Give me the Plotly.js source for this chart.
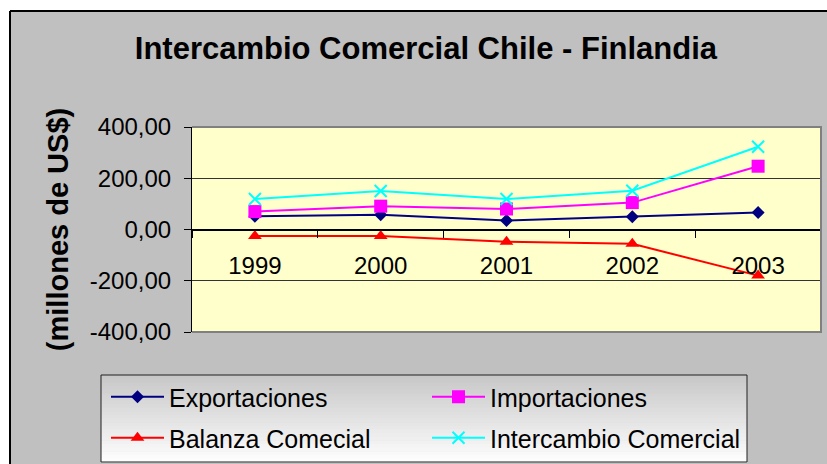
<!DOCTYPE html>
<html>
<head>
<meta charset="utf-8">
<script src="https://cdn.plot.ly/plotly-3.0.1.min.js"></script>
<style>html,body{margin:0;padding:0;background:#fff;}#chart{width:827px;height:464px;}</style>
</head>
<body>
<div id="chart"></div>
<script>
// ---- data ----
var years = ['1999', '2000', '2001', '2002', '2003'];
var exportaciones = [52, 58, 35, 50, 66];
var importaciones = [70, 91, 80, 105, 247];
var balanza = [-25, -25, -48, -56, -180];
var intercambio = [119, 150, 119, 151, 323];
var yTicks = [400, 200, 0, -200, -400];
var yTickLabels = ['400,00', '200,00', '0,00', '-200,00', '-400,00'];
var seriesNames = ['Exportaciones', 'Importaciones', 'Balanza Comecial', 'Intercambio Comercial'];

// ---- geometry helpers (pixel -> paper) ----
var W = 827, H = 464;
var L = 192, R = 6, T = 127, B = 132;
var PW = W - L - R, PH = H - T - B;
function px(x) { return (x - L) / PW; }
function py(y) { return (H - B - y) / PH; }

var FONT = 'Arial, "Liberation Sans", sans-serif';

var traces = [
  {x: years, y: exportaciones, name: seriesNames[0], type: 'scatter', mode: 'lines+markers',
   line: {color: '#000080', width: 2}, marker: {symbol: 'diamond', size: 10, color: '#000080'}, legend: 'legend'},
  {x: years, y: importaciones, name: seriesNames[1], type: 'scatter', mode: 'lines+markers',
   line: {color: '#FF00FF', width: 2}, marker: {symbol: 'square', size: 13, color: '#FF00FF'}, legend: 'legend2'},
  {x: years, y: balanza, name: seriesNames[2], type: 'scatter', mode: 'lines+markers',
   line: {color: '#FF0000', width: 2}, marker: {symbol: 'triangle-up', size: 12, color: '#FF0000'}, legend: 'legend3'},
  {x: years, y: intercambio, name: seriesNames[3], type: 'scatter', mode: 'lines+markers',
   line: {color: '#00FFFF', width: 2}, marker: {symbol: 'x-thin-open', size: 12, color: '#00FFFF', line: {color: '#00FFFF', width: 2}}, legend: 'legend4'}
];

var shapes = [];
// white page strips outside the chart frame
shapes.push({type: 'rect', xref: 'paper', yref: 'paper', layer: 'below',
  x0: px(-20), x1: px(850), y0: py(11), y1: py(-20), fillcolor: '#ffffff', line: {width: 0}});
shapes.push({type: 'rect', xref: 'paper', yref: 'paper', layer: 'below',
  x0: px(-20), x1: px(10), y0: py(480), y1: py(-20), fillcolor: '#ffffff', line: {width: 0}});
// frame border lines
shapes.push({type: 'line', xref: 'paper', yref: 'paper', layer: 'below',
  x0: px(10), x1: px(850), y0: py(11), y1: py(11), line: {color: '#000', width: 2}});
shapes.push({type: 'line', xref: 'paper', yref: 'paper', layer: 'below',
  x0: px(10), x1: px(10), y0: py(11), y1: py(480), line: {color: '#000', width: 2}});
// legend box with vertical gradient (bands)
var lbX0 = 101, lbX1 = 747, lbY0 = 375, lbY1 = 462, nb = 24;
for (var i = 0; i < nb; i++) {
  var t = i / (nb - 1);
  var c = Math.round(200 + (253 - 200) * t);
  shapes.push({type: 'rect', xref: 'paper', yref: 'paper', layer: 'below',
    x0: px(lbX0), x1: px(lbX1),
    y0: py(lbY0 + (lbY1 - lbY0) * i / nb), y1: py(lbY0 + (lbY1 - lbY0) * (i + 1) / nb + 0.5),
    fillcolor: 'rgb(' + c + ',' + c + ',' + c + ')', line: {width: 0}});
}
shapes.push({type: 'rect', xref: 'paper', yref: 'paper', layer: 'below',
  x0: px(lbX0), x1: px(lbX1), y0: py(lbY1), y1: py(lbY0),
  fillcolor: 'rgba(0,0,0,0)', line: {color: '#202020', width: 1}});
// plot area border (top, right, bottom) in gray
shapes.push({type: 'path', xref: 'paper', yref: 'paper', layer: 'above',
  path: 'M0,1 L1,1 L1,0 L0,0', line: {color: '#808080', width: 2}});

function leg(x, y) {
  return {x: x, y: y, xanchor: 'left', yanchor: 'middle', orientation: 'v',
    bgcolor: 'rgba(0,0,0,0)', borderwidth: 0, itemwidth: 53,
    font: {family: FONT, size: 25, color: '#000'}};
}

var layout = {
  width: W, height: H,
  margin: {l: L, r: R, t: T, b: B, pad: 0, autoexpand: false},
  paper_bgcolor: '#C0C0C0',
  plot_bgcolor: '#FFFFCC',
  showlegend: true,
  title: {text: 'Intercambio Comercial Chile - Finlandia', x: 0.515, xanchor: 'center',
    y: 1 - 48 / H, yanchor: 'middle', yref: 'container',
    font: {family: FONT, size: 31, color: '#000', weight: 'bold'}},
  xaxis: {type: 'category', range: [-0.5, 4.5], anchor: 'free', position: 0.5,
    showline: true, linecolor: '#000', linewidth: 1,
    ticks: 'outside', tickson: 'boundaries', ticklen: 7, tickcolor: '#000', tickwidth: 1,
    ticklabelstandoff: 15,
    tickfont: {family: FONT, size: 24, color: '#000'},
    showgrid: false, zeroline: false, fixedrange: true},
  yaxis: {range: [-400, 400], tickvals: yTicks, ticktext: yTickLabels,
    showline: true, linecolor: '#000', linewidth: 1,
    ticks: 'outside', ticklen: 7, tickcolor: '#000', tickwidth: 1,
    ticklabelstandoff: 8,
    tickfont: {family: FONT, size: 24, color: '#000'},
    showgrid: true, gridcolor: '#333333', gridwidth: 1,
    zeroline: true, zerolinecolor: '#000', zerolinewidth: 1,
    automargin: false, fixedrange: true,
    title: {text: '(millones de US$)', standoff: 12,
      font: {family: FONT, size: 29, color: '#000', weight: 'bold'}}},
  shapes: shapes,
  legend: leg(px(106), py(397)),
  legend2: leg(px(427), py(397)),
  legend3: leg(px(106), py(438)),
  legend4: leg(px(427), py(438))
};

Plotly.newPlot('chart', traces, layout, {staticPlot: true, displayModeBar: false});
</script>
</body>
</html>
